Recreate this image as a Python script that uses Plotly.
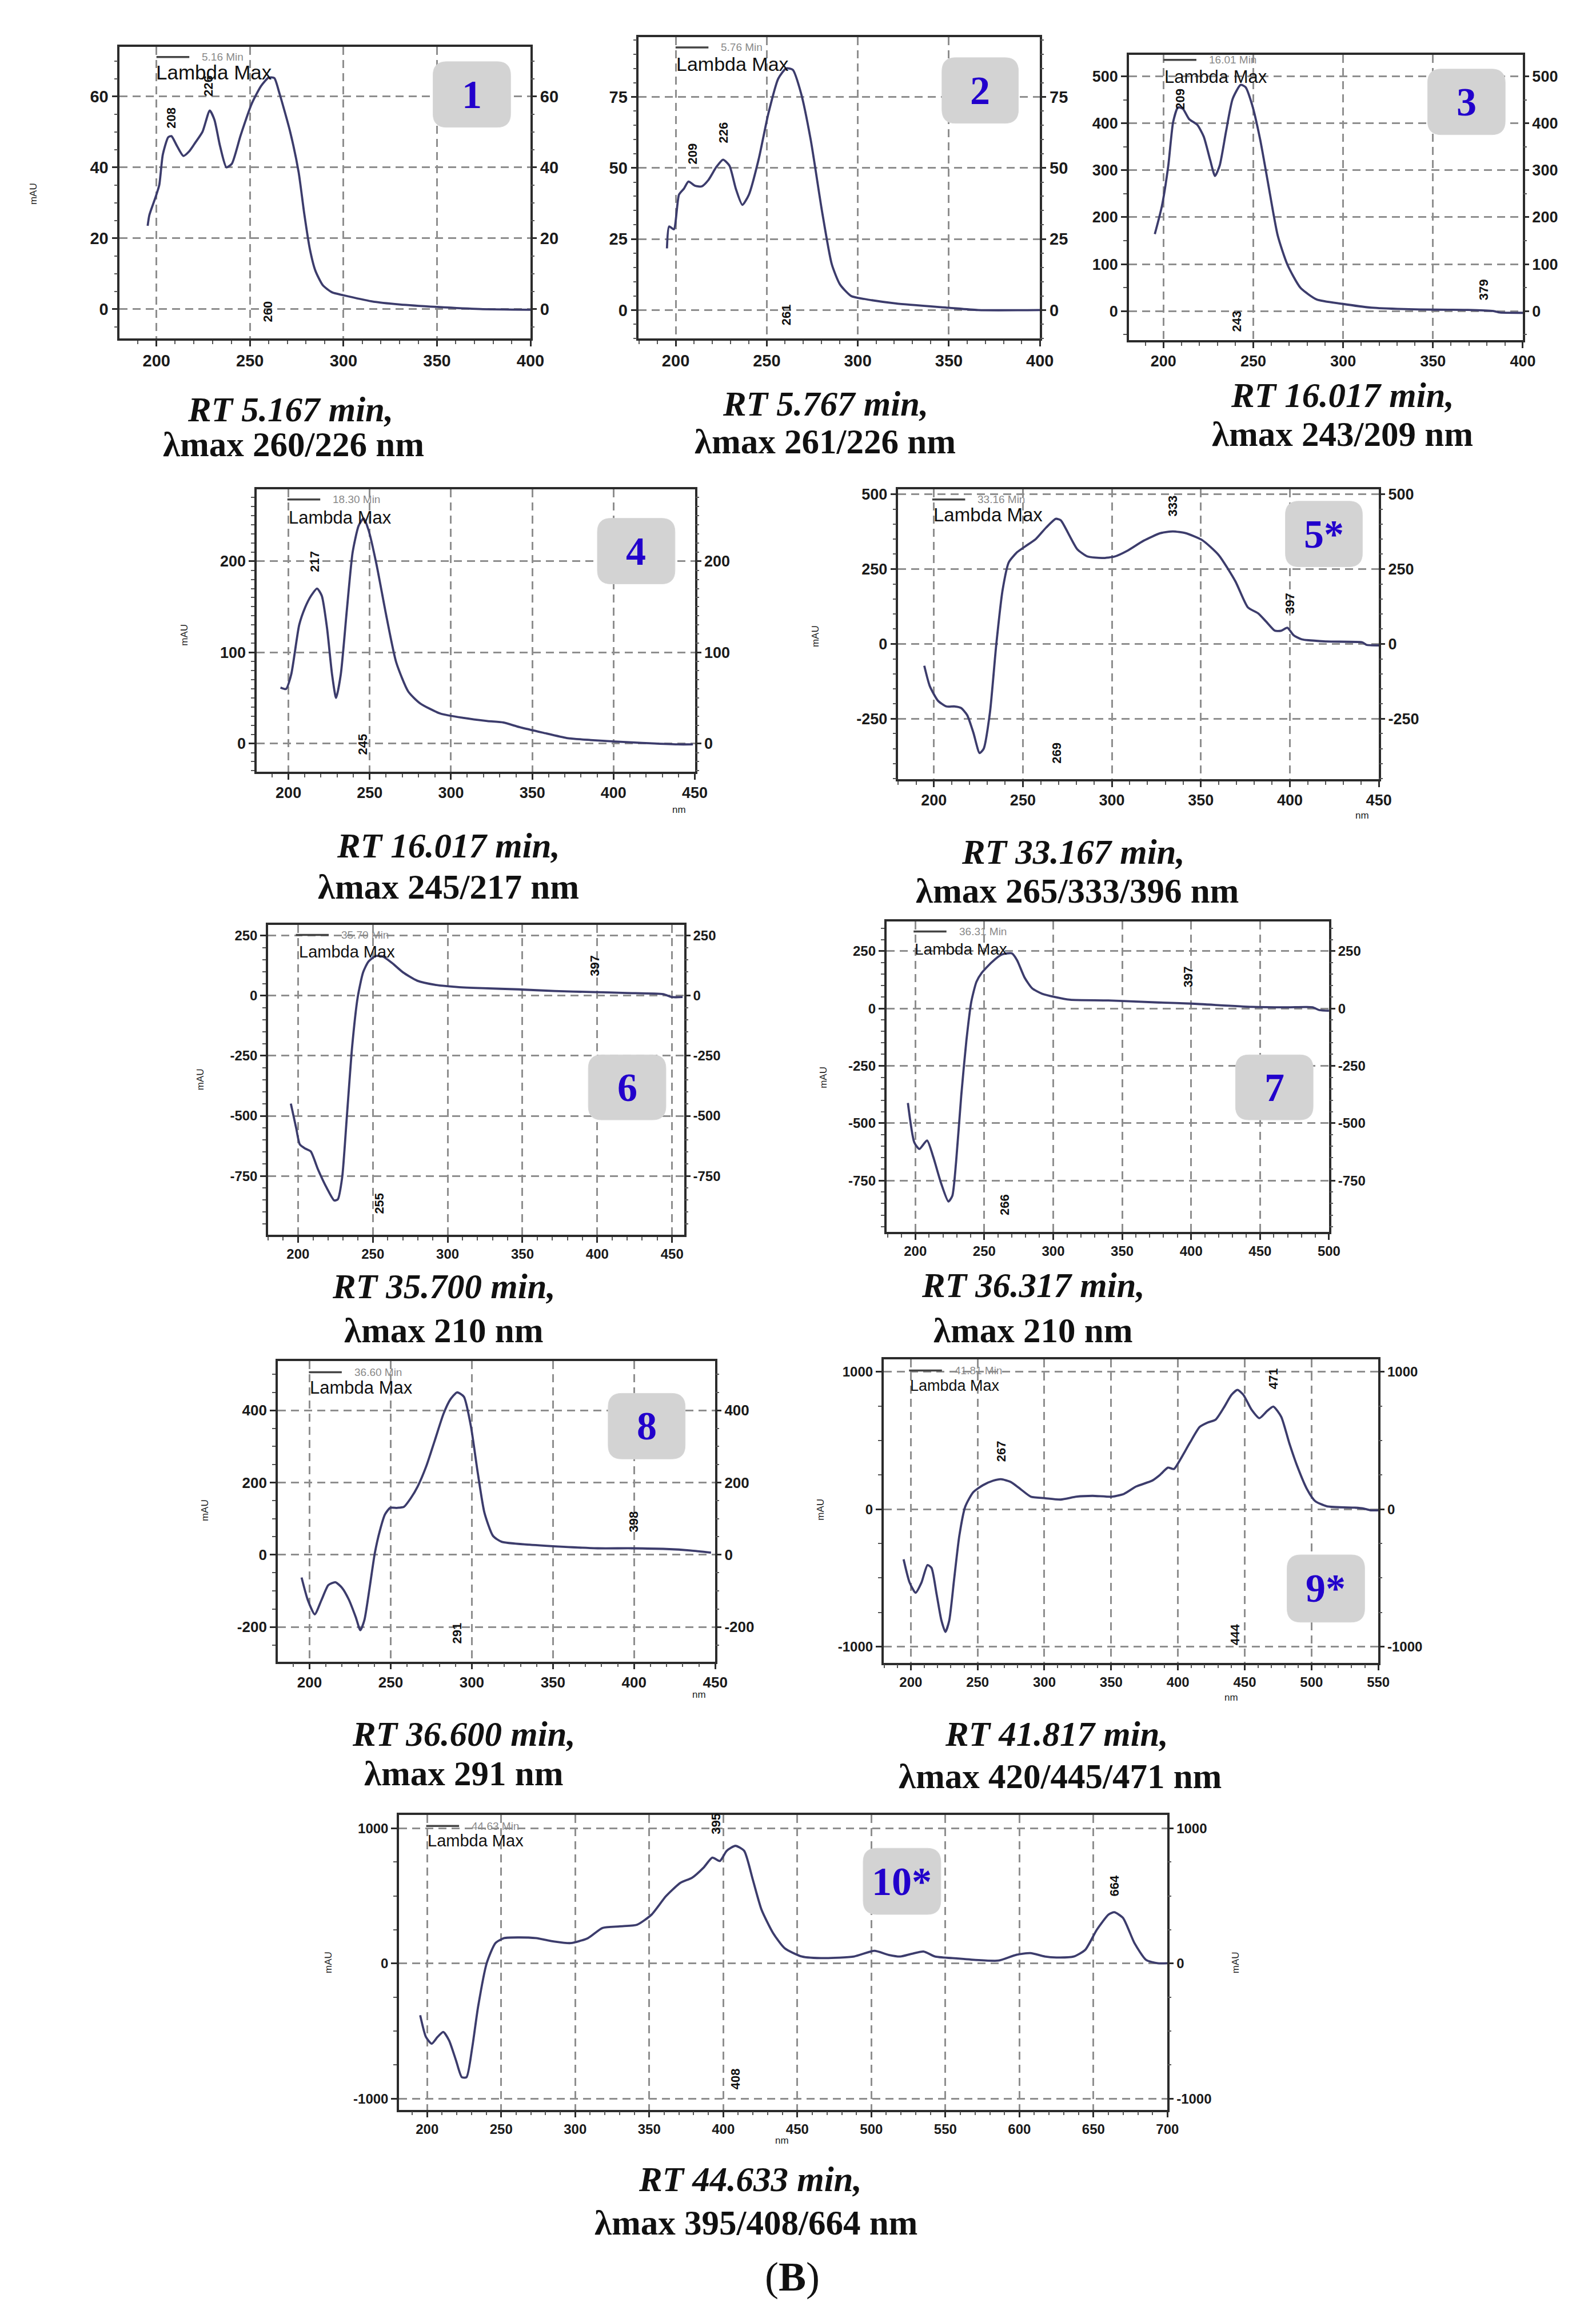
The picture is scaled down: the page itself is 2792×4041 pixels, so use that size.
import plotly.graph_objects as go

W, H = 2792, 4041

# ---------------- data (wavelength nm, absorbance mAU) ----------------
wl1 = [195.3, 196.2, 199.6, 201.5, 203.4, 206.3, 208, 211, 214.4, 217.5, 220.7, 224.6, 228.5, 231, 234,
       237.4, 240.3, 245, 251, 256, 260, 263, 265.7, 271.5, 276, 279, 282, 285, 289, 294, 300, 315, 330,
       350, 373, 400]
au1 = [23.5, 26.5, 31.7, 35, 43.6, 48.5, 48.8, 46, 43.2, 44.5, 46.9, 50, 56, 53.4, 46,
       40, 41, 49, 58, 63, 65.3, 65.2, 61, 50, 38.7, 27, 17, 10.8, 6.7, 4.7, 3.9, 2.2, 1.3,
       0.6, 0, -0.2]

wl2 = [195.2, 196.4, 199, 201.8, 204.5, 207, 210.7, 214.3, 217.9, 222.3, 226, 229.5, 233, 236.6, 240.2,
       245.5, 250.9, 256.3, 260.7, 264.3, 268.8, 274.1, 280.4, 285.7, 290.2, 296.4, 303.6, 321, 350, 366, 400]
au2 = [21.7, 29.4, 28.4, 40.6, 42.7, 45.2, 43.7, 43.5, 45.7, 50.3, 52.9, 50.8, 42.7, 37, 40.6,
       52.9, 69.2, 81.4, 85, 84.5, 76.3, 60, 34.5, 16.1, 9, 4.9, 3.9, 2.3, 0.8, 0, 0]

wl3 = [195.2, 199.1, 202.7, 205.4, 208.1, 210.8, 214.3, 218.8, 222.4, 226, 228.7, 231.3, 234.9, 238.5, 243,
       245.7, 249.3, 253.8, 258.2, 263.6, 269, 276.2, 285.2, 299.5, 315.6, 333.5, 351.4, 369.4, 383.7, 387.3, 400]
au3 = [164, 223, 310, 403, 434, 431, 409, 397, 372, 322, 288, 310, 384, 452, 482,
       477, 440, 366, 273, 161, 99, 50, 25, 15.5, 7.4, 4.3, 3, 2.5, 0, -3, -3.7]

wl4 = [195.1, 198.5, 201.7, 206.6, 210.2, 213.9, 217.6, 220.5, 223.7, 226.8, 229.3, 232.2, 235.9, 239.5,
       243.2, 246.3, 249.3, 254.1, 260.2, 266.3, 273.7, 281, 293.2, 307.8, 322.4, 332.2, 342, 356.6, 371.2,
       385.9, 400.5, 417.6, 439.5, 448.8]
au4 = [61.4, 59.8, 75.8, 130, 149, 162, 170, 162, 127, 76, 50, 76, 146, 210,
       239, 247, 234, 197, 140, 89, 57, 44, 33, 28, 24.6, 23, 18, 11.8, 6,
       3.8, 2.2, 0.6, -1, -1]

wl5 = [194.6, 197.7, 202.3, 207, 211.7, 215.2, 218.7, 222.2, 225.7, 228, 231.5, 235, 238.6, 242.1, 246.7,
       251.4, 257.2, 263.1, 268.5, 271.3, 275.9, 280.6, 286.4, 294.6, 301.6, 308.6, 317.9, 327.3, 334.3,
       341.4, 350.7, 360, 369.4, 376.4, 382.2, 386.9, 391.6, 395.1, 398.6, 402.1, 406.8, 420.8, 440.7, 443, 450]
au5 = [-73, -141, -190, -209, -209, -214, -238, -297, -365, -350, -229, -5, 180, 273, 306,
       326, 350, 389, 418, 413, 365, 316, 292, 287, 292, 311, 345, 370, 376,
       370, 347, 297, 209, 122, 102, 73, 44, 44, 54, 29, 15, 8, 5, -3, -5]

wl6 = [195.2, 198.8, 201.2, 204.8, 208.5, 213.3, 219.3, 224.2, 226.6, 229.5, 232.6, 236.2, 239.9, 243.5,
       247.1, 252, 256.8, 262.8, 270.1, 279.7, 291.8, 306.3, 323.2, 347.3, 371.5, 395.7, 419.8, 444, 450, 457]
au6 = [-449, -552, -619, -636, -648, -722, -801, -852, -847, -756, -506, -210, -6, 97,
       142, 165, 162, 136, 97, 62, 45, 36, 31, 26, 19, 15, 11, 6, -6, -6]

wl7 = [194.6, 199.2, 202.9, 208.5, 213, 218.6, 224, 226.8, 229.6, 233.3, 237, 240.6, 244.3, 248, 255.5,
       262.7, 270, 273.7, 279.2, 284.7, 292, 301.2, 312.3, 339.9, 376.6, 400.5, 444, 470, 488, 493, 500]
au7 = [-412, -583, -612, -575, -647, -760, -841, -817, -665, -379, -141, 30, 116, 154, 202,
       235, 240, 211, 135, 88, 64, 50, 38, 35, 26, 21, 7, 5, 5, -7, -10]

wl8 = [195.1, 198.9, 203.2, 207.4, 211.6, 215.9, 220.1, 224.3, 228.5, 231.3, 233.8, 237, 240.2, 243.4,
       246.5, 249.7, 254, 258.2, 262.4, 266.6, 271.9, 277.2, 282.5, 286.7, 290.9, 295.1, 299.4, 303.6,
       307.8, 313.1, 318.4, 335.3, 356.4, 377.6, 398.7, 419.9, 434.7, 447.4]
au8 = [-63, -125, -165, -125, -84, -76, -92, -125, -173, -209, -181, -92, 4, 68,
       112, 130, 130, 133, 157, 189, 245, 317, 390, 430, 450, 438, 357, 229,
       116, 52, 36, 28, 22, 18, 18, 16, 12, 6]

wl9 = [194.6, 199.1, 203.6, 208, 212.5, 215.5, 219.3, 222.9, 225.9, 228.8, 232.4, 236.3, 240.7, 246.7,
       254.1, 261.6, 267.5, 275, 282.4, 289.9, 300.3, 312.2, 324.1, 336, 350.8, 359.7, 368.7, 380.6, 386.5,
       392.5, 397, 401.4, 408.9, 416.3, 422.3, 428.2, 434.2, 440.1, 444.6, 449, 455, 461, 466.9, 471.4,
       477.3, 483.3, 489.3, 496.7, 502.7, 511.6, 532.4, 538.3, 544.3, 550]
au9 = [-364, -533, -607, -533, -406, -427, -617, -808, -892, -808, -512, -195, 17, 123,
       175, 207, 218, 197, 144, 91, 80, 70, 91, 97, 91, 112, 165, 207, 249,
       302, 292, 355, 482, 598, 630, 651, 736, 831, 867, 831, 725, 662, 715, 746,
       672, 482, 313, 144, 59, 21, 11, 6, -8, -8]

wl10 = [195.3, 199.2, 203.1, 207, 210.9, 214.8, 219.5, 223.4, 226.6, 230.5, 234.4, 240.2, 246.1, 252,
        261.7, 273.4, 285.2, 296.9, 308.6, 318.4, 330.1, 341.8, 351.6, 361.3, 371.1, 378.9, 386.7, 392.6,
        397.7, 402.3, 408.2, 414.1, 419.9, 425.8, 433.6, 441.4, 453.1, 468.8, 488.3, 502, 511.7, 519.5,
        527.3, 535.2, 543, 554.7, 570.3, 586, 597.7, 607.4, 617.2, 625, 636.7, 644.5, 652.3, 660.2, 664.1,
        670, 677.7, 685.5, 693.4, 700]
au10 = [-382, -543, -592, -543, -506, -568, -716, -840, -840, -617, -320, 2, 151, 188,
        193, 188, 164, 151, 188, 263, 275, 287, 362, 498, 597, 634, 709, 783,
        758, 833, 870, 833, 622, 399, 226, 114, 52, 40, 52, 94, 64, 52,
        72, 89, 52, 40, 27, 22, 64, 77, 52, 45, 52, 102, 250, 362, 379,
        337, 151, 27, 2, 2]

# tick values
xt1 = [200, 250, 300, 350, 400]
xt2 = [200, 250, 300, 350, 400]
xt3 = [200, 250, 300, 350, 400]
xt4 = [200, 250, 300, 350, 400, 450]
xt5 = [200, 250, 300, 350, 400, 450]
xt6 = [200, 250, 300, 350, 400, 450]
xt7 = [200, 250, 300, 350, 400, 450, 500]
xt8 = [200, 250, 300, 350, 400, 450]
xt9 = [200, 250, 300, 350, 400, 450, 500, 550]
xt10 = [200, 250, 300, 350, 400, 450, 500, 550, 600, 650, 700]
yt1 = [0, 20, 40, 60]
yt2 = [0, 25, 50, 75]
yt3 = [0, 100, 200, 300, 400, 500]
yt4 = [0, 100, 200]
yt5 = [-250, 0, 250, 500]
yt6 = [-750, -500, -250, 0, 250]
yt7 = [-750, -500, -250, 0, 250]
yt8 = [-200, 0, 200, 400]
yt9 = [-1000, 0, 1000]
yt10 = [-1000, 0, 1000]

# peak labels (wavelength, mAU position, text)
pk1 = [(208, 54, "208"), (227.5, 63, "226"), (259.5, -0.7, "260")]
pk2 = [(209.3, 55, "209"), (226.3, 62.5, "226"), (260.7, -1.7, "261")]
pk3 = [(209, 452, "209"), (240.7, -22, "243"), (378.3, 46, "379")]
pk4 = [(216.3, 200, "217"), (245.6, -1, "245")]
pk5 = [(334.3, 462, "333"), (399.8, 136, "397"), (268.9, -365, "269")]
pk6 = [(398, 125, "397"), (254.3, -864, "255")]
pk7 = [(397.6, 139, "397"), (264.5, -854, "266")]
pk8 = [(399.8, 92, "398"), (290.9, -217, "291")]
pk9 = [(267.5, 419, "267"), (471.2, 947, "471"), (443, -913, "444")]
pk10 = [(395.3, 1032, "395"), (408.2, -853, "408"), (664, 573, "664")]

# ---------------- layout configuration ----------------
panels = [
    dict(wl=wl1, au=au1, xt=xt1, yt=yt1, pk=pk1, box=(203, 68, 928, 579), xr=(180.3, 400), yr=(-8.3, 74), ym=5, fs=29,
         rt="RT 5.167 min,", lm="λmax 260/226 nm", rtp=(504, 704), lmp=(510, 765),
         badge=(756, 94, 893, 209), num="1", leg=(268, 86, "5.16 Min"), lam=(265, 113), lfs=35,
         mau=[(51, 326)], nm=None),
    dict(wl=wl2, au=au2, xt=xt2, yt=yt2, pk=pk2, box=(1119, 51, 1827, 579), xr=(179.7, 400), yr=(-10, 96), ym=5, fs=29,
         rt="RT 5.767 min,", lm="λmax 261/226 nm", rtp=(1448, 694), lmp=(1448, 760),
         badge=(1654, 87, 1789, 202), num="2", leg=(1184, 69, "5.76 Min"), lam=(1183, 98), lfs=34,
         mau=[], nm=None),
    dict(wl=wl3, au=au3, xt=xt3, yt=yt3, pk=pk3, box=(1984, 82, 2679, 582), xr=(180.8, 400), yr=(-62, 546), ym=50, fs=27,
         rt="RT 16.017 min,", lm="λmax 243/209 nm", rtp=(2361, 679), lmp=(2361, 747),
         badge=(2511, 107, 2648, 222), num="3", leg=(2045, 91, "16.01 Min"), lam=(2045, 121), lfs=31,
         mau=[], nm=None),
    dict(wl=wl4, au=au4, xt=xt4, yt=yt4, pk=pk4, box=(445, 843, 1218, 1338), xr=(180.5, 450), yr=(-31, 279), ym=10, fs=27,
         rt="RT 16.017 min,", lm="λmax 245/217 nm", rtp=(783, 1468), lmp=(783, 1540),
         badge=(1046, 894, 1183, 1009), num="4", leg=(499, 861, "18.30 Min"), lam=(499, 893), lfs=31,
         mau=[(317, 1098)], nm=(1190, 1405)),
    dict(wl=wl5, au=au5, xt=xt5, yt=yt5, pk=pk5, box=(1577, 843, 2425, 1351), xr=(180, 450), yr=(-452, 517), ym=50, fs=27,
         rt="RT 33.167 min,", lm="λmax 265/333/396 nm", rtp=(1886, 1479), lmp=(1893, 1547),
         badge=(2260, 864, 2396, 979), num="5*", leg=(1637, 861, "33.16 Min"), lam=(1637, 888), lfs=33,
         mau=[(1431, 1101)], nm=(2396, 1415)),
    dict(wl=wl6, au=au6, xt=xt6, yt=yt6, pk=pk6, box=(465, 1606, 1199, 2149), xr=(180, 458), yr=(-994, 295), ym=50, fs=24,
         rt="RT 35.700 min,", lm="λmax 210 nm", rtp=(775, 2240), lmp=(775, 2317),
         badge=(1030, 1834, 1167, 1948), num="6", leg=(514, 1624, "35.70 Min"), lam=(517, 1653), lfs=29,
         mau=[(345, 1877)], nm=None),
    dict(wl=wl7, au=au7, xt=xt7, yt=yt7, pk=pk7, box=(1556, 1600, 2337, 2144), xr=(179, 500), yr=(-973, 380), ym=50, fs=24,
         rt="RT 36.317 min,", lm="λmax 210 nm", rtp=(1815, 2238), lmp=(1815, 2317),
         badge=(2172, 1834, 2309, 1948), num="7", leg=(1604, 1618, "36.31 Min"), lam=(1604, 1649), lfs=28,
         mau=[(1445, 1874)], nm=None),
    dict(wl=wl8, au=au8, xt=xt8, yt=yt8, pk=pk8, box=(482, 2371, 1254, 2897), xr=(180.4, 450), yr=(-296, 536), ym=50, fs=26,
         rt="RT 36.600 min,", lm="λmax 291 nm", rtp=(810, 3024), lmp=(810, 3093),
         badge=(1065, 2427, 1201, 2542), num="8", leg=(537, 2390, "36.60 Min"), lam=(537, 2417), lfs=31,
         mau=[(353, 2632)], nm=(1226, 2955)),
    dict(wl=wl9, au=au9, xt=xt9, yt=yt9, pk=pk9, box=(1551, 2368, 2424, 2899), xr=(179.6, 550), yr=(-1116, 1087), ym=250, fs=24,
         rt="RT 41.817 min,", lm="λmax 420/445/471 nm", rtp=(1856, 3024), lmp=(1863, 3098),
         badge=(2263, 2710, 2400, 2828), num="9*", leg=(1596, 2387, "41.81 Min"), lam=(1596, 2414), lfs=27,
         mau=[(1439, 2631)], nm=(2165, 2960)),
    dict(wl=wl10, au=au10, xt=xt10, yt=yt10, pk=pk10, box=(696, 3166, 2052, 3682), xr=(181, 700), yr=(-1080, 1097), ym=250, fs=24,
         rt="RT 44.633 min,", lm="λmax 395/408/664 nm", rtp=(1316, 3804), lmp=(1326, 3880),
         badge=(1515, 3224, 1652, 3340), num="10*", leg=(744, 3185, "44.63 Min"), lam=(744, 3211), lfs=29,
         mau=[(572, 3424), (2173, 3424)], nm=(1372, 3736)),
]

SANS = "Liberation Sans, Arial, sans-serif"
SERIF = "Liberation Serif, Times New Roman, serif"
CURVE = "#3c3c6c"
AXC = "#2b2b2b"
GRID = "#8e8e8e"
BLUE = "#2200cc"


def px(x):
    return x / W


def py(y):
    return 1 - y / H


fig = go.Figure()
annotations = []
shapes = []
layout_axes = {}

for i, p in enumerate(panels, start=1):
    xa = 'x' if i == 1 else f'x{i}'
    ya = 'y' if i == 1 else f'y{i}'
    yra = f'y{i + 10}'
    xkey = 'xaxis' if i == 1 else f'xaxis{i}'
    ykey = 'yaxis' if i == 1 else f'yaxis{i}'
    rkey = f'yaxis{i + 10}'
    x0, y0, x1, y1 = p['box']

    fig.add_trace(go.Scatter(x=p['wl'], y=p['au'], mode='lines',
                             line=dict(color=CURVE, width=3.8, shape='spline', smoothing=0.6),
                             xaxis=xa, yaxis=ya, showlegend=False, hoverinfo='skip'))
    fig.add_trace(go.Scatter(x=p['wl'], y=p['au'], mode='lines', line=dict(width=0, color=CURVE),
                             opacity=0, xaxis=xa, yaxis=yra, showlegend=False, hoverinfo='skip'))

    tf = dict(family=SANS, size=p['fs'], color='#1a1a1a', weight='bold')
    ytxt = [str(v) for v in p['yt']]
    layout_axes[xkey] = dict(
        domain=[px(x0), px(x1)], range=list(p['xr']), anchor=ya,
        tickmode='array', tickvals=p['xt'], ticktext=[str(v) for v in p['xt']],
        ticks='outside', ticklen=10, tickwidth=2.5, tickcolor=AXC,
        showline=True, linecolor=AXC, linewidth=3.5, mirror=True,
        showgrid=True, gridcolor=GRID, gridwidth=2.5, griddash='14px,9px',
        zeroline=False, tickfont=tf,
        minor=dict(ticks='outside', ticklen=6, tickwidth=2, tickcolor='#555',
                   tickmode='linear', tick0=200, dtick=10, showgrid=False))
    ycommon = dict(range=list(p['yr']), tickmode='array', tickvals=p['yt'], ticktext=ytxt,
                   ticks='outside', ticklen=10, tickwidth=2.5, tickcolor=AXC,
                   zeroline=False, tickfont=tf,
                   minor=dict(ticks='outside', ticklen=6, tickwidth=2, tickcolor='#555',
                              tickmode='linear', tick0=0, dtick=p['ym'], showgrid=False))
    layout_axes[ykey] = dict(domain=[py(y1), py(y0)], anchor=xa,
                             showline=True, linecolor=AXC, linewidth=3.5, mirror=True,
                             showgrid=True, gridcolor=GRID, gridwidth=2.5, griddash='14px,9px',
                             **ycommon)
    layout_axes[rkey] = dict(overlaying=ya, side='right', anchor=xa, showgrid=False,
                             showline=False, **ycommon)

    # legend sample
    lx, ly, ltxt = p['leg']
    shapes.append(dict(type='line', xref='paper', yref='paper', x0=px(lx), x1=px(lx + 58),
                       y0=py(ly), y1=py(ly), line=dict(color='#444', width=3.5)))
    annotations.append(dict(x=px(lx + 78), y=py(ly), xref='paper', yref='paper', text=ltxt,
                            showarrow=False, xanchor='left', yanchor='middle',
                            font=dict(family=SANS, size=19, color='#8a8a8a')))
    annotations.append(dict(x=px(p['lam'][0]), y=py(p['lam'][1]), xref='paper', yref='paper',
                            text='Lambda Max', showarrow=False, xanchor='left', yanchor='middle',
                            font=dict(family=SANS, size=p['lfs'], color='#111')))
    # peak labels
    for (wx, wy, t) in p['pk']:
        annotations.append(dict(x=wx, y=wy, xref=xa, yref=ya, text=t, showarrow=False,
                                textangle=-90, xanchor='center', yanchor='middle',
                                font=dict(family=SANS, size=22, color='#111', weight='bold')))
    # badge
    bx0, by0, bx1, by1 = p['badge']
    r = 24
    X0, X1, Yt, Yb = px(bx0), px(bx1), py(by0), py(by1)
    rx, ry = r / W, r / H
    path = (f"M {X0 + rx},{Yb} L {X1 - rx},{Yb} Q {X1},{Yb} {X1},{Yb + ry} "
            f"L {X1},{Yt - ry} Q {X1},{Yt} {X1 - rx},{Yt} L {X0 + rx},{Yt} "
            f"Q {X0},{Yt} {X0},{Yt - ry} L {X0},{Yb + ry} Q {X0},{Yb} {X0 + rx},{Yb} Z")
    shapes.append(dict(type='path', xref='paper', yref='paper', path=path,
                       fillcolor='#d3d3d3', line=dict(color='#d8d8d8', width=1)))
    annotations.append(dict(x=(X0 + X1) / 2, y=(Yt + Yb) / 2, xref='paper', yref='paper',
                            text=f"<b>{p['num']}</b>", showarrow=False, xanchor='center', yanchor='middle',
                            font=dict(family=SERIF, size=70, color=BLUE)))
    # captions
    annotations.append(dict(x=px(p['rtp'][0]), y=py(p['rtp'][1]), xref='paper', yref='paper',
                            text=f"<b><i>{p['rt']}</i></b>", showarrow=False, xanchor='center', yanchor='middle',
                            font=dict(family=SERIF, size=61, color='#111')))
    annotations.append(dict(x=px(p['lmp'][0]), y=py(p['lmp'][1]), xref='paper', yref='paper',
                            text=f"<b>{p['lm']}</b>", showarrow=False, xanchor='center', yanchor='middle',
                            font=dict(family=SERIF, size=61, color='#111')))
    for (mx, my) in p['mau']:
        annotations.append(dict(x=px(mx), y=py(my), xref='paper', yref='paper', text='mAU',
                                showarrow=False, textangle=-90, xanchor='center', yanchor='middle',
                                font=dict(family=SANS, size=17, color='#222')))
    if p['nm']:
        annotations.append(dict(x=px(p['nm'][0]), y=py(p['nm'][1]), xref='paper', yref='paper', text='nm',
                                showarrow=False, xanchor='center', yanchor='middle',
                                font=dict(family=SANS, size=17, color='#222')))

annotations.append(dict(x=px(1390), y=py(3975), xref='paper', yref='paper', text='(<b>B</b>)',
                        showarrow=False, xanchor='center', yanchor='middle',
                        font=dict(family=SERIF, size=72, color='#111')))

fig.update_layout(width=W, height=H, autosize=False,
                  margin=dict(l=0, r=0, t=0, b=0),
                  paper_bgcolor='white', plot_bgcolor='white',
                  showlegend=False, annotations=annotations, shapes=shapes,
                  **layout_axes)

fig.write_html("out.html")
